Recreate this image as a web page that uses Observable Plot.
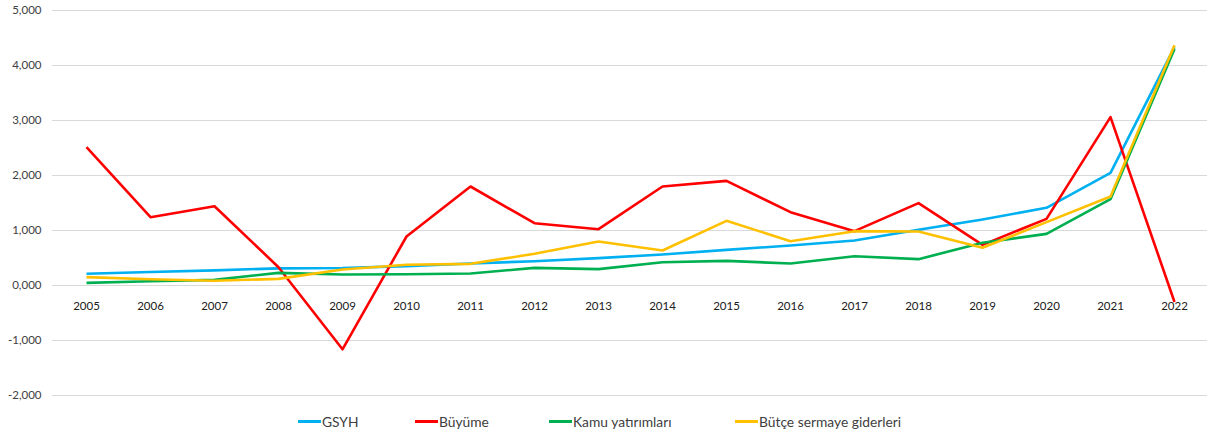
<!DOCTYPE html>
<html>
<head>
<meta charset="utf-8">
<script src="https://cdn.jsdelivr.net/npm/d3@7"></script>
<script src="https://cdn.jsdelivr.net/npm/@observablehq/plot@0.6"></script>
<style>
  html, body { margin: 0; padding: 0; background: #fff; }
  #wrap { position: relative; width: 1208px; height: 434px; font-family: Lato, "Open Sans", sans-serif; }
  #legend { position: absolute; left: 0; top: 410px; width: 1208px; height: 24px; }
  .item { position: absolute; top: 3px; display: flex; align-items: center; font-size: 13.8px; color: #404040; white-space: nowrap; }
  .swatch { width: 23px; height: 3px; margin-right: 1px; }
</style>
</head>
<body>
<div id="wrap">
  <div id="chart"></div>
  <div id="legend"></div>
</div>
<script>
const years = ["2005","2006","2007","2008","2009","2010","2011","2012","2013","2014","2015","2016","2017","2018","2019","2020","2021","2022"];
const gsyh   = [0.213, 0.245, 0.275, 0.312, 0.318, 0.352, 0.400, 0.442, 0.497, 0.564, 0.648, 0.727, 0.818, 1.012, 1.200, 1.412, 2.049, 4.333];
const buyume = [2.515, 1.242, 1.442, 0.333, -1.160, 0.891, 1.800, 1.133, 1.024, 1.800, 1.903, 1.333, 0.988, 1.497, 0.739, 1.212, 3.061, -0.300];
const kamu   = [0.048, 0.078, 0.103, 0.230, 0.200, 0.205, 0.218, 0.321, 0.297, 0.424, 0.448, 0.400, 0.533, 0.479, 0.776, 0.939, 1.570, 4.300];
const butce  = [0.152, 0.115, 0.085, 0.121, 0.290, 0.376, 0.394, 0.576, 0.800, 0.636, 1.176, 0.806, 0.988, 0.982, 0.685, 1.152, 1.618, 4.370];
const yTicks = [-2, -1, 0, 1, 2, 3, 4, 5];

const seriesNames = ["GSYH", "Büyüme", "Kamu yatırımları", "Bütçe sermaye giderleri"];
const seriesValues = [gsyh, buyume, kamu, butce];
const colors = ["#00B0F0", "#FF0000", "#00B050", "#FFC000"];

const rows = [];
seriesNames.forEach((name, i) => {
  years.forEach((yr, j) => rows.push({series: name, year: yr, value: seriesValues[i][j]}));
});

const fmt = d => (d < 0 ? "-" : "") + Math.abs(d).toFixed(3).replace(".", ",");

const chart = Plot.plot({
  width: 1208,
  height: 408,
  marginTop: 10,
  marginBottom: 13,
  marginLeft: 52,
  marginRight: 1,
  style: {fontFamily: "Lato, 'Open Sans', sans-serif", fontSize: "11.5px", color: "#404040", background: "#fff"},
  x: {type: "point", domain: years, padding: 0.5, axis: null},
  y: {domain: [-2, 5], axis: null},
  color: {domain: seriesNames, range: colors},
  marks: [
    Plot.gridY(yTicks, {stroke: "#d9d9d9", strokeOpacity: 1, strokeWidth: 1}),
    Plot.axisY(yTicks, {tickSize: 0, tickPadding: 11, tickFormat: fmt, label: null, fill: "#404040", fontSize: 11.5}),
    Plot.text(years, {x: d => d, y: () => 0, dy: 21, text: d => d, fill: "#202020", fontSize: 11.5}),
    Plot.line(rows, {x: "year", y: "value", z: "series", stroke: "series", strokeWidth: 2.6, strokeLinejoin: "round", strokeLinecap: "butt"})
  ]
});
document.getElementById("chart").appendChild(chart);

const legendLefts = [298, 415, 549, 735];
const legend = document.getElementById("legend");
seriesNames.forEach((name, i) => {
  const item = document.createElement("div");
  item.className = "item";
  item.style.left = legendLefts[i] + "px";
  const sw = document.createElement("span");
  sw.className = "swatch";
  sw.style.background = colors[i];
  const label = document.createElement("span");
  label.textContent = name;
  item.appendChild(sw);
  item.appendChild(label);
  legend.appendChild(item);
});
</script>
</body>
</html>
